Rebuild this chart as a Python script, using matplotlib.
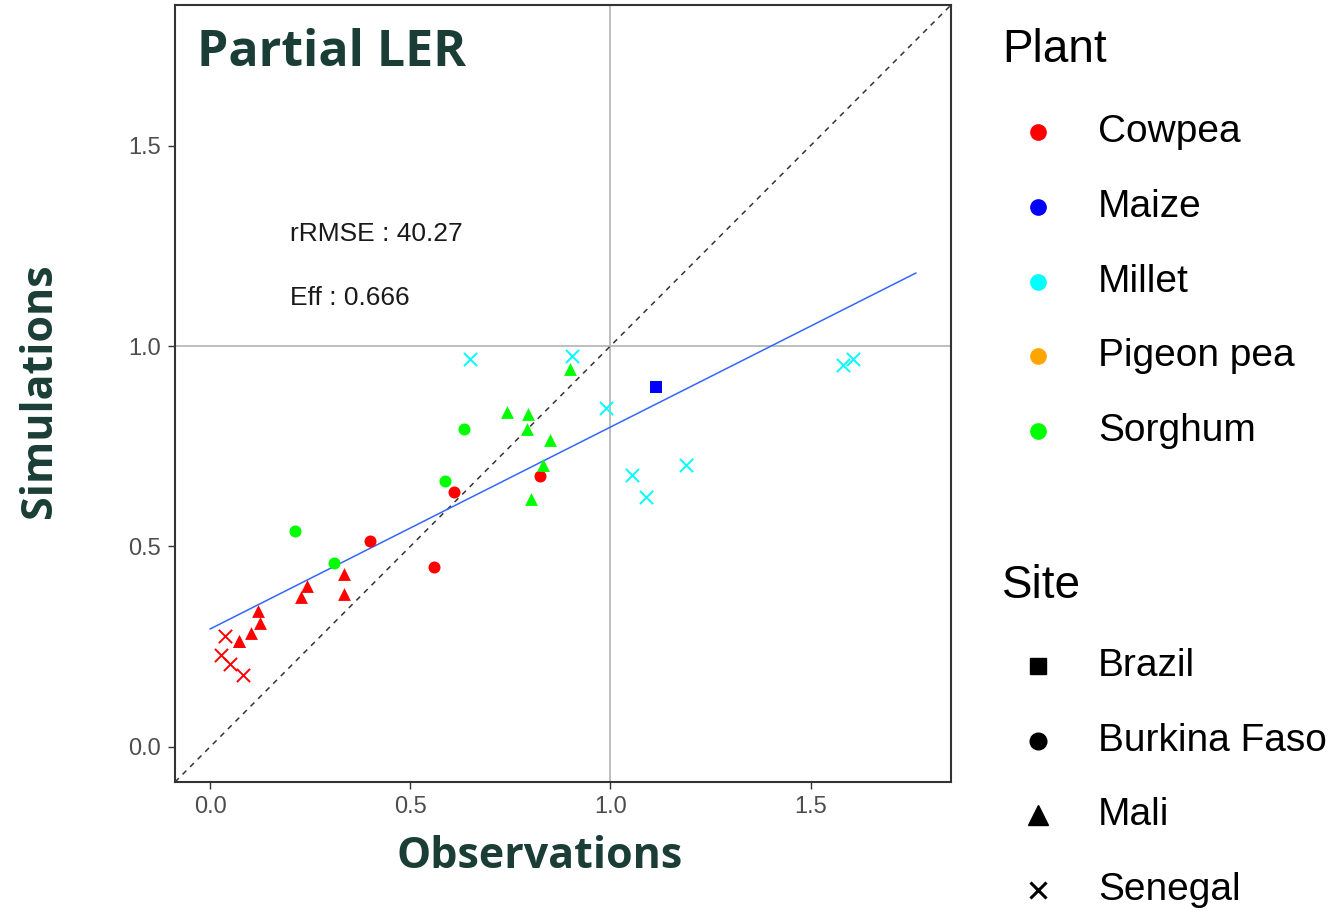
import matplotlib
matplotlib.use('Agg')
import matplotlib.pyplot as plt
from matplotlib.lines import Line2D

# observed vs simulated partial LER, one row per plot
plant = ['Sorghum', 'Sorghum', 'Sorghum', 'Sorghum',
         'Cowpea', 'Cowpea', 'Cowpea', 'Cowpea',
         'Cowpea', 'Cowpea', 'Cowpea', 'Cowpea', 'Cowpea', 'Cowpea', 'Cowpea', 'Cowpea', 'Cowpea',
         'Cowpea', 'Cowpea', 'Cowpea', 'Cowpea',
         'Sorghum', 'Sorghum', 'Sorghum', 'Sorghum', 'Sorghum', 'Sorghum', 'Sorghum',
         'Maize',
         'Millet', 'Millet', 'Millet', 'Millet', 'Millet', 'Millet', 'Millet', 'Millet']
site = ['Burkina Faso', 'Burkina Faso', 'Burkina Faso', 'Burkina Faso',
        'Burkina Faso', 'Burkina Faso', 'Burkina Faso', 'Burkina Faso',
        'Mali', 'Mali', 'Mali', 'Mali', 'Mali', 'Mali', 'Mali', 'Mali', 'Mali',
        'Senegal', 'Senegal', 'Senegal', 'Senegal',
        'Mali', 'Mali', 'Mali', 'Mali', 'Mali', 'Mali', 'Mali',
        'Brazil',
        'Senegal', 'Senegal', 'Senegal', 'Senegal', 'Senegal', 'Senegal', 'Senegal', 'Senegal']
obs = [0.213, 0.310, 0.587, 0.635,
       0.398, 0.559, 0.608, 0.825,
       0.335, 0.335, 0.242, 0.227, 0.120, 0.124, 0.102, 0.0715, 0.0715,
       0.037, 0.027, 0.049, 0.082,
       0.900, 0.742, 0.793, 0.791, 0.850, 0.832, 0.801,
       1.113,
       0.649, 0.905, 0.988, 1.580, 1.607, 1.190, 1.055, 1.088]
sim = [0.538, 0.459, 0.664, 0.794,
       0.513, 0.448, 0.636, 0.676,
       0.430, 0.380, 0.400, 0.373, 0.338, 0.309, 0.283, 0.263, 0.263,
       0.276, 0.229, 0.207, 0.178,
       0.943, 0.836, 0.830, 0.793, 0.765, 0.703, 0.619,
       0.897,
       0.968, 0.976, 0.846, 0.953, 0.968, 0.704, 0.678, 0.623]

# fitted regression line
fit_x = [0.0, 1.763]
fit_y = [0.294, 1.182]

rrmse = 40.27
eff = 0.666

plants = ['Cowpea', 'Maize', 'Millet', 'Pigeon pea', 'Sorghum']
plant_colors = ['#FF0000', '#0000FF', '#00FFFF', '#FFA500', '#00FF00']
sites = ['Brazil', 'Burkina Faso', 'Mali', 'Senegal']
site_markers = ['s', 'o', '^', 'x']

ticks = [0.0, 0.5, 1.0, 1.5]

W, H = 1341, 914
fig = plt.figure(figsize=(W / 100, H / 100), dpi=100)
ax = fig.add_axes([175 / W, 1 - 782 / H, (951 - 175) / W, (782 - 5) / H])

lim = (-0.088, 1.851)
ax.set_xlim(lim)
ax.set_ylim(lim)

ax.axhline(1.0, color='#B3B3B3', lw=1.2, zorder=1)
ax.axvline(1.0, color='#B3B3B3', lw=1.2, zorder=1)
ax.plot(lim, lim, color='#333333', lw=1.1, dashes=(3.5, 3.5), zorder=2)
ax.plot(fit_x, fit_y, color='#3366FF', lw=1.1, zorder=3)

col_of = dict(zip(plants, plant_colors))
mk_of = dict(zip(sites, site_markers))
size_of = {'s': 65, 'o': 75, '^': 85, 'x': 90}
for x, y, p, s in zip(obs, sim, plant, site):
    m = mk_of[s]
    if m == 'x':
        ax.scatter(x, y, marker='x', s=size_of[m], color=col_of[p], linewidths=1.4, zorder=4)
    else:
        ax.scatter(x, y, marker=m, s=size_of[m], color=col_of[p], linewidths=0, zorder=4)

ax.text(0.2, 1.28, f'rRMSE : {rrmse:.2f}', fontsize=19, family='Liberation Sans',
        color='#1a1a1a', va='center', ha='left')
ax.text(0.2, 1.12, f'Eff : {eff:.3f}', fontsize=19, family='Liberation Sans',
        color='#1a1a1a', va='center', ha='left')

ax.set_xticks(ticks)
ax.set_yticks(ticks)
ax.set_xticklabels([f'{t:.1f}' for t in ticks])
ax.set_yticklabels([f'{t:.1f}' for t in ticks])
ax.tick_params(axis='both', length=5, width=1, color='#333333', labelcolor='#4D4D4D',
               labelsize=17, pad=5)
for lab in ax.get_xticklabels() + ax.get_yticklabels():
    lab.set_family('Liberation Sans')
for sp in ax.spines.values():
    sp.set_color('#333333')
    sp.set_linewidth(1.5)

dark = '#1A3D35'
fig.text(197 / W, 1 - 66 / H, 'Partial LER', fontsize=36, weight='bold', family='Open Sans',
         color=dark, va='baseline', ha='left')
fig.text(540 / W, 1 - 857 / H, 'Observations', fontsize=31, weight='bold', family='Open Sans',
         color=dark, va='center', ha='center')
fig.text(40 / W, 1 - 391 / H, 'Simulations', fontsize=31, weight='bold', family='Open Sans',
         color=dark, va='center', ha='center', rotation=90)

# legends drawn by hand in figure pixels
def legend_text(x, y, s, size):
    fig.text(x / W, 1 - y / H, s, fontsize=size, family='Liberation Sans', color='black',
             va='center', ha='left')

legend_text(1002, 50, 'Plant', 33)
for i, (p, c) in enumerate(zip(plants, plant_colors)):
    y = 132 + i * 74.8
    fig.add_artist(Line2D([1038 / W], [1 - y / H], marker='o', ms=11, color=c, mec=c,
                          transform=fig.transFigure))
    legend_text(1098, y, p, 28)

legend_text(1002, 586, 'Site', 33)
marker_ms = {'s': 12, 'o': 12, '^': 14, 'x': 12}
for i, (s, m) in enumerate(zip(sites, site_markers)):
    y = 666 + i * 74.7
    if m == 'x':
        fig.add_artist(Line2D([1038 / W], [1 - y / H], marker='x', ms=marker_ms[m], mew=2.2,
                              color='black', transform=fig.transFigure))
    else:
        fig.add_artist(Line2D([1038 / W], [1 - y / H], marker=m, ms=marker_ms[m], color='black',
                              mec='black', transform=fig.transFigure))
    legend_text(1098, y, s, 28)

fig.savefig('out.png', dpi=100)
